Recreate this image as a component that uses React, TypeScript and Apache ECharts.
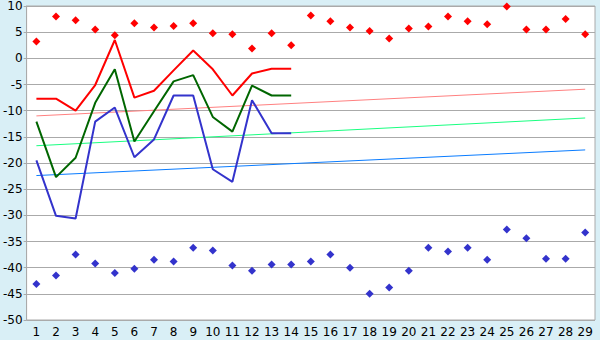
import React, { useEffect, useRef } from "react";
import * as echarts from "echarts";

const categories = ["1","2","3","4","5","6","7","8","9","10","11","12","13","14","15","16","17","18","19","20","21","22","23","24","25","26","27","28","29"];

const redPoints = [3.2, 8.0, 7.3, 5.5, 4.4, 6.7, 5.9, 6.2, 6.7, 4.8, 4.6, 1.9, 4.8, 2.5, 8.2, 7.1, 5.9, 5.2, 3.8, 5.7, 6.1, 8.0, 7.1, 6.5, 9.9, 5.5, 5.5, 7.5, 4.6];
const bluePoints = [-43.1, -41.5, -37.5, -39.2, -41.0, -40.2, -38.5, -38.8, -36.2, -36.7, -39.6, -40.6, -39.4, -39.4, -38.8, -37.5, -40.0, -45.0, -43.8, -40.6, -36.2, -36.9, -36.2, -38.5, -32.7, -34.4, -38.3, -38.3, -33.3];

const redLine = [-7.7, -7.7, -10.0, -5.1, 3.5, -7.5, -6.2, -2.3, 1.5, -2.1, -7.1, -2.9, -2.0, -2.0];
const greenLine = [-12.1, -22.7, -19.0, -8.5, -2.1, -15.9, -10.1, -4.4, -3.2, -11.2, -14.0, -5.2, -7.1, -7.1];
const blueLine = [-19.5, -30.1, -30.6, -12.1, -9.4, -18.9, -15.5, -7.1, -7.1, -21.2, -23.6, -8.0, -14.3, -14.3];

const trendEnds = ["1", "29"];
const pinkTrend = [-11.0, -5.9];
const greenTrend = [-16.7, -11.4];
const blueTrend = [-22.4, -17.5];

const yTicks = { min: -50, max: 10, interval: 5 };

export default function App() {
  const ref = useRef<HTMLDivElement>(null);
  useEffect(() => {
    if (!ref.current) return;
    const chart = echarts.init(ref.current, null, { renderer: "svg" });
    const font = "DejaVu Sans";
    const trend = (vals: number[], color: string) => ({
      type: "line",
      data: trendEnds.map((c, i) => [c, vals[i]]),
      symbol: "none",
      lineStyle: { color, width: 1 },
      z: 1,
    });
    const main = (vals: number[], color: string) => ({
      type: "line",
      data: vals,
      symbol: "none",
      lineStyle: { color, width: 2 },
      z: 3,
    });
    chart.setOption({
      animation: false,
      backgroundColor: "#d9eff6",
      grid: {
        left: 26,
        right: 5,
        top: 5,
        bottom: 20,
        show: true,
        backgroundColor: "#ffffff",
        borderColor: "#aaaaaa",
        borderWidth: 1,
      },
      xAxis: {
        type: "category",
        data: categories,
        boundaryGap: true,
        axisLine: { lineStyle: { color: "#aaaaaa" } },
        axisTick: { alignWithLabel: true, length: 5, lineStyle: { color: "#333333" } },
        axisLabel: { color: "#000000", fontFamily: font, fontSize: 12, margin: 6, interval: 0 },
        splitLine: { show: false },
      },
      yAxis: {
        type: "value",
        min: yTicks.min,
        max: yTicks.max,
        interval: yTicks.interval,
        axisLine: { show: true, lineStyle: { color: "#aaaaaa" } },
        axisTick: { show: true, length: 3, lineStyle: { color: "#aaaaaa" } },
        axisLabel: { color: "#000000", fontFamily: font, fontSize: 12, margin: 4 },
        splitLine: { show: true, lineStyle: { color: "#aaaaaa", width: 1 } },
      },
      series: [
        trend(pinkTrend, "#ff8080"),
        trend(greenTrend, "#19ff80"),
        trend(blueTrend, "#0a7cff"),
        main(redLine, "#ff0000"),
        main(greenLine, "#006600"),
        main(blueLine, "#3333cc"),
        {
          type: "scatter",
          data: redPoints,
          symbol: "diamond",
          symbolSize: 8,
          itemStyle: { color: "#ff0000", opacity: 1 },
          z: 4,
        },
        {
          type: "scatter",
          data: bluePoints,
          symbol: "diamond",
          symbolSize: 8,
          itemStyle: { color: "#3333cc", opacity: 1 },
          z: 4,
        },
      ],
    });
    return () => chart.dispose();
  }, []);
  return (
    <div
      ref={ref}
      style={{ position: "fixed", left: 0, top: 0, width: 600, height: 340 }}
    />
  );
}
